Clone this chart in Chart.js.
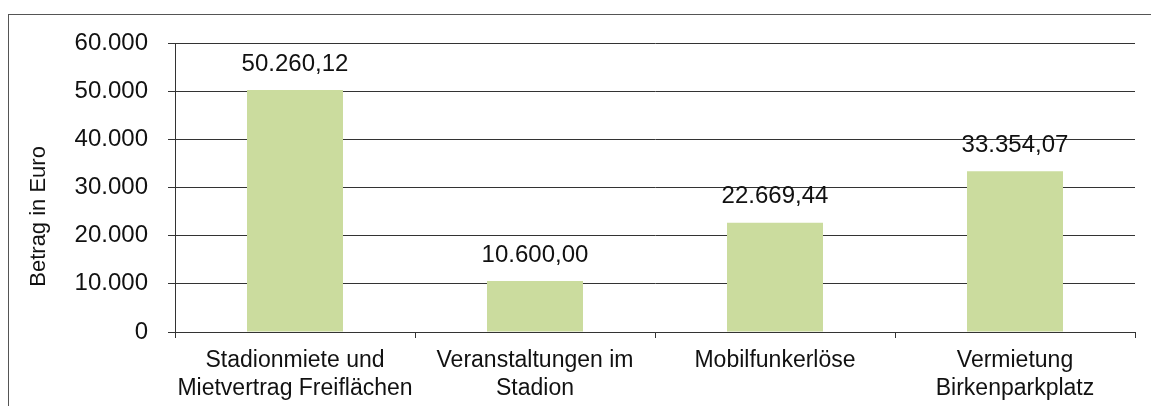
<!DOCTYPE html>
<html>
<head>
<meta charset="utf-8">
<script src="https://cdn.jsdelivr.net/npm/chart.js@4"></script>
<style>
  html, body { margin: 0; padding: 0; background: #fff; }
  #wrap { width: 1151px; height: 406px; }
</style>
</head>
<body>
<div id="wrap"><canvas id="chart__betrag-canvas"></canvas></div>
<script>
const categories = [
  ["Stadionmiete und", "Mietvertrag Freiflächen"],
  ["Veranstaltungen im", "Stadion"],
  "Mobilfunkerlöse",
  ["Vermietung", "Birkenparkplatz"],
];
const amounts = [50260.12, 10600.0, 22669.44, 33354.07];
const yTicks = [0, 10000, 20000, 30000, 40000, 50000, 60000];
const yTitle = "Betrag in Euro";

// German number format: 1.234,56
function deNumber(v, digits) {
  const parts = v.toFixed(digits).split(".");
  parts[0] = parts[0].replace(/\B(?=(\d{3})+(?!\d))/g, ".");
  return parts.join(",");
}

const FONT = "'Liberation Sans', Arial, sans-serif";

const frame = {
  id: "frame",
  beforeDraw(chart) {
    const ctx = chart.ctx;
    ctx.save();
    ctx.fillStyle = "#fff";
    ctx.fillRect(0, 0, chart.width, chart.height);
    ctx.strokeStyle = "#555";
    ctx.lineWidth = 1;
    ctx.strokeRect(8.5, 14.5, 1200, 500);
    ctx.restore();
  },
  afterDraw(chart) {
    // axis title sits a bit below the plot middle in the original
    const ctx = chart.ctx;
    const area = chart.chartArea;
    ctx.save();
    ctx.translate(39, area.top + (area.bottom - area.top) * 0.6);
    ctx.rotate(-Math.PI / 2);
    ctx.font = "22px " + FONT;
    ctx.fillStyle = "#111";
    ctx.textAlign = "center";
    ctx.textBaseline = "middle";
    ctx.fillText(yTitle, 0, 0);
    ctx.restore();
  },
};

const valueLabels = {
  id: "valueLabels",
  afterDatasetsDraw(chart) {
    const ctx = chart.ctx;
    const meta = chart.getDatasetMeta(0);
    ctx.save();
    ctx.font = "24px " + FONT;
    ctx.fillStyle = "#111";
    ctx.textAlign = "center";
    ctx.textBaseline = "middle";
    meta.data.forEach((bar, i) => {
      ctx.fillText(deNumber(amounts[i], 2), bar.x, bar.y - 26);
    });
    ctx.restore();
  },
};

new Chart(document.getElementById("chart__betrag-canvas"), {
  type: "bar",
  data: {
    labels: categories,
    datasets: [
      {
        data: amounts,
        backgroundColor: "#cbdc9e",
        borderWidth: 0,
        barPercentage: 0.4,
        categoryPercentage: 1,
      },
    ],
  },
  options: {
    responsive: true,
    maintainAspectRatio: false,
    animation: false,
    layout: { padding: { left: 0, top: 43, right: 16, bottom: 0 } },
    plugins: {
      legend: { display: false },
      tooltip: { enabled: false },
    },
    scales: {
      x: {
        grid: {
          drawOnChartArea: false,
          drawTicks: true,
          tickLength: 6,
          color: "#333",
        },
        border: { color: "#333", width: 1 },
        ticks: {
          color: "#111",
          font: { family: FONT, size: 23 },
          padding: 9,
          maxRotation: 0,
          autoSkip: false,
        },
        afterFit(scale) {
          scale.height = 74;
        },
      },
      y: {
        min: 0,
        max: 60000,
        afterBuildTicks(scale) {
          scale.ticks = yTicks.map((v) => ({ value: v }));
        },
        grid: {
          color: "#333",
          lineWidth: 1,
          tickLength: 7,
        },
        border: { color: "#333", width: 1 },
        ticks: {
          color: "#111",
          font: { family: FONT, size: 24 },
          padding: 20,
          callback: (v) => deNumber(v, 0),
        },
        afterFit(scale) {
          scale.width = 175;
        },
      },
    },
  },
  plugins: [frame, valueLabels],
});
</script>
</body>
</html>
